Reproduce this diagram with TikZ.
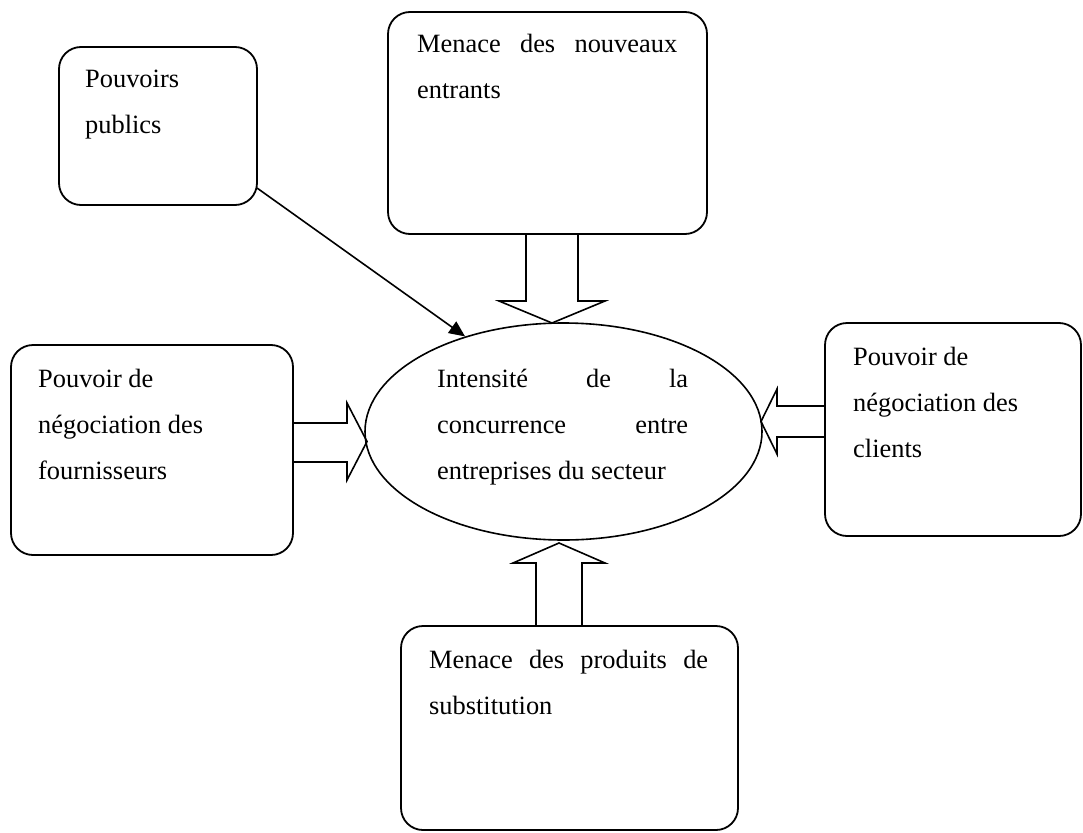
\documentclass[tikz,border=0pt]{standalone}
\usepackage{fontspec}
\setmainfont{Liberation Serif}
\usetikzlibrary{shapes.geometric,arrows.meta}
\newcommand{\jline}[1]{\hbox to\linewidth{#1}}
\begin{document}
\begin{tikzpicture}[x=1pt,y=-1pt,
  box/.style={draw, line width=1.8pt, rounded corners=22pt, inner sep=0pt},
  txt/.style={anchor=base west, inner sep=0pt, font=\fontsize{26.4}{46}\selectfont},
  blk/.style={draw, line width=1.6pt, line join=miter},
  thinarrow/.style={draw, line width=1.6pt, -{Triangle[length=16pt,width=14pt]}}]
\useasboundingbox[fill=white] (0,0) rectangle (1083,832);

% boxes
\node[box, minimum width=198pt, minimum height=158pt] (pp) at (158,126) {};
\node[box, minimum width=319pt, minimum height=222pt] (top) at (547.5,123) {};
\node[box, minimum width=282pt, minimum height=210pt] (left) at (152,450) {};
\node[box, minimum width=256pt, minimum height=213pt] (right) at (953,429.5) {};
\node[box, minimum width=337pt, minimum height=204pt] (sub) at (569.5,728) {};
\node[draw, ellipse, line width=1.6pt, inner sep=0pt, minimum width=397pt, minimum height=217pt] (ell) at (563.5,431.5) {};

% texts
\node[txt] (tpp) at (85,88) {\parbox[t]{150pt}{\jline{Pouvoirs\hfill}\jline{publics\hfill}}};
\node[txt] (ttop) at (417,53) {\parbox[t]{260pt}{\jline{Menace\hfill des\hfill nouveaux}\jline{entrants\hfill}}};
\node[txt] (tleft) at (38,387) {\parbox[t]{240pt}{\jline{Pouvoir de\hfill}\jline{négociation des\hfill}\jline{fournisseurs\hfill}}};
\node[txt] (tright) at (853,365) {\parbox[t]{220pt}{\jline{Pouvoir de\hfill}\jline{négociation des\hfill}\jline{clients\hfill}}};
\node[txt] (tsub) at (429,668) {\parbox[t]{279pt}{\jline{Menace\hfill des\hfill produits\hfill de}\jline{substitution\hfill}}};
\node[txt] (tell) at (437,387) {\parbox[t]{251pt}{\jline{Intensité\hfill de\hfill la}\jline{concurrence\hfill entre}\jline{entreprises du secteur\hfill}}};

% thin arrow from Pouvoirs publics
\coordinate (ppout) at (257,188);
\draw[thinarrow] (ppout) -- (ell.136);

% block arrows
\draw[blk] (526,234) -- (526,301) -- (499,301) -- (552,323) -- (605,301) -- (578,301) -- (578,234);
\draw[blk] (536,626) -- (536,563) -- (513,563) -- (559,543) -- (605,563) -- (582,563) -- (582,626);
\draw[blk] (293,423) -- (347,423) -- (347,403) -- (367,441.5) -- (347,480) -- (347,462) -- (293,462);
\draw[blk] (825,406) -- (777,406) -- (777,389) -- (761,421.5) -- (777,454) -- (777,437) -- (825,437);
\end{tikzpicture}
\end{document}
